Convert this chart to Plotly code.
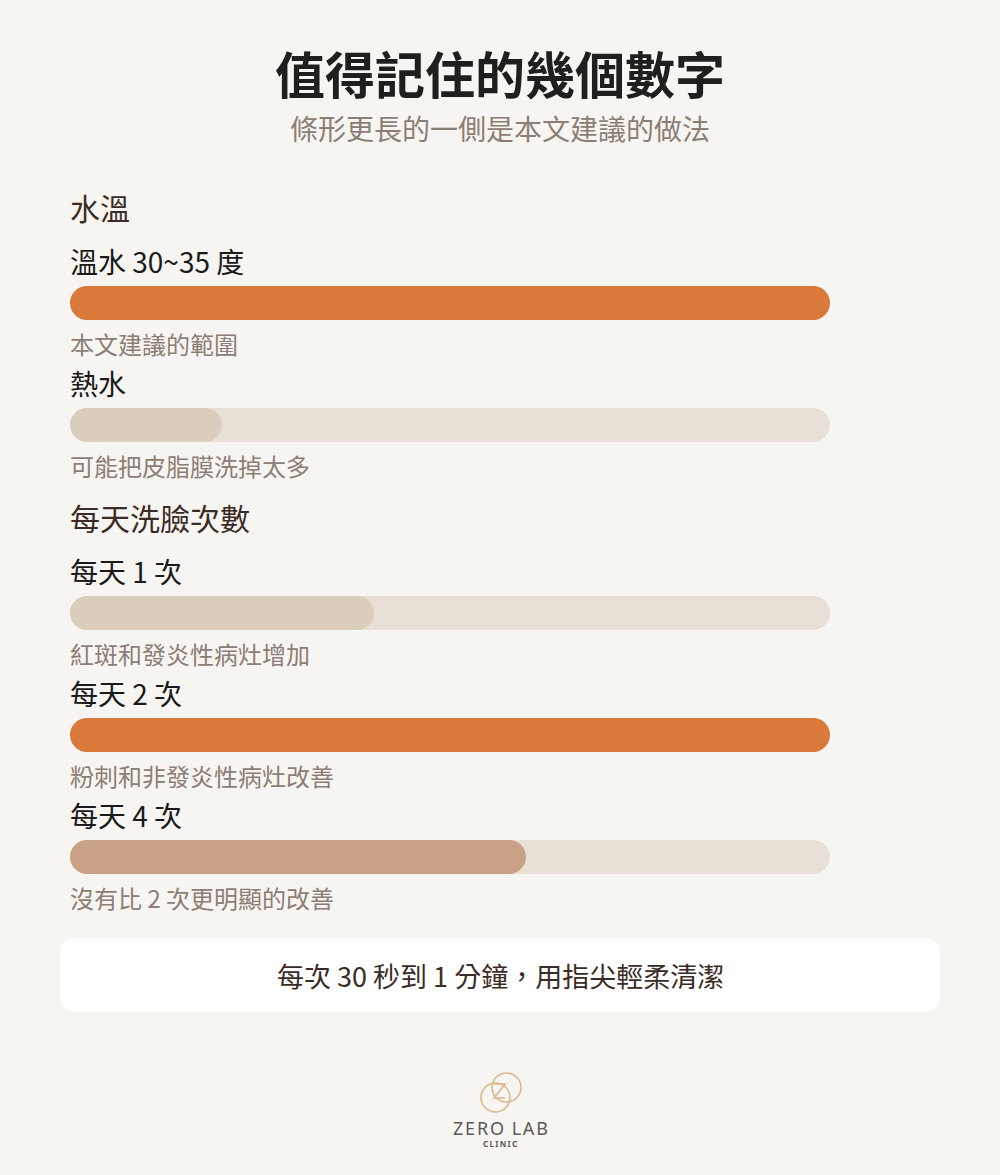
import plotly.graph_objects as go

# data
sections = ["水溫", "每天洗臉次數"]
row_section = [0, 0, 1, 1, 1]
row_labels = ["溫水 30~35 度", "熱水", "每天 1 次", "每天 2 次", "每天 4 次"]
row_values = [100, 20, 40, 100, 60]
row_notes = ["本文建議的範圍", "可能把皮脂膜洗掉太多", "紅斑和發炎性病灶增加",
             "粉刺和非發炎性病灶改善", "沒有比 2 次更明顯的改善"]
row_kind = ["best", "low", "low", "best", "high"]

title = "值得記住的幾個數字"
subtitle = "條形更長的一側是本文建議的做法"
footer = "每次 30 秒到 1 分鐘，用指尖輕柔清潔"

W, H = 1000, 1175
BG = "#F7F5F1"
TRACK = "#E8DFD6"
kind_color = {"best": "#D97A3A", "low": "#DBCDBB", "high": "#C9A285"}
FONT = "Noto Sans CJK TC"


def py(y):
    return 1 - y / H


# layout positions (pixels)
x_dom = [0.07, 0.83]
bar_h = 34
first_bar = 303
pitch = 122
section_gap = 66
bar_y, header_y = [], []
y = first_bar
for i, s in enumerate(row_section):
    if i > 0:
        y += pitch
        if s != row_section[i - 1]:
            y += section_gap
    if i == 0 or s != row_section[i - 1]:
        header_y.append(y - 42 - 54)
    bar_y.append(y)

# each pill = a short negative stub + the positive rest, stacked (relative mode),
# so plotly rounds both outer ends. stub = one bar height, in axis units.
stub = bar_h / ((x_dom[1] - x_dom[0]) * W) * 100
x_range = [-stub, 100 - stub]

fig = go.Figure()


def pill_row(values, colors, xa):
    n = len(values)
    fig.add_trace(go.Bar(
        x=[-stub] * n, y=bar_y, orientation="h", width=bar_h, xaxis=xa,
        marker=dict(color=colors, cornerradius=bar_h / 2, line_width=0),
        hoverinfo="skip", showlegend=False))
    fig.add_trace(go.Bar(
        x=[v - stub for v in values], y=bar_y, orientation="h", width=bar_h, xaxis=xa,
        marker=dict(color=colors, cornerradius=bar_h / 2, line_width=0),
        hoverinfo="skip", showlegend=False))


pill_row([100] * len(row_values), [TRACK] * len(row_values), "x")
pill_row(row_values, [kind_color[k] for k in row_kind], "x2")


def text(x, yy, s, size, color, anchor="left", family=FONT, weight=400):
    return dict(x=x, y=yy, xref="paper", yref="y", text=s, showarrow=False,
                xanchor=anchor, yanchor="middle",
                font=dict(family=family, size=size, color=color, weight=weight))


lx = 0.068
ann = [text(0.5, 72, title, 50, "#1f1f1f", "center", weight=700),
       text(0.5, 128, subtitle, 28, "#8c7e74", "center")]
for s, hy in zip(sections, header_y):
    ann.append(text(lx, hy, s, 30, "#3b2b25"))
for i in range(len(row_labels)):
    ann.append(text(lx, bar_y[i] - 42, row_labels[i], 28, "#1a1a1a"))
    ann.append(text(lx, bar_y[i] + 40, row_notes[i], 24, "#8c7e74"))
ann.append(text(0.5, 975, footer, 27, "#3b2b25", "center"))
ann.append(text(0.5, 1128, "Z\u200aE\u200aR\u200aO\u2009 L\u200aA\u200aB", 18, "#5a5a5a", "center",
                family="Noto Sans"))
ann.append(text(0.5, 1143, "C\u2009L\u2009I\u2009N\u2009I\u2009C", 8, "#5a5a5a", "center",
                family="Noto Sans", weight=700))


def rounded_box(x0, y0, x1, y1, r):
    X = lambda v: v / W
    Y = py
    return (f"M {X(x0 + r)},{Y(y0)} L {X(x1 - r)},{Y(y0)} Q {X(x1)},{Y(y0)} {X(x1)},{Y(y0 + r)} "
            f"L {X(x1)},{Y(y1 - r)} Q {X(x1)},{Y(y1)} {X(x1 - r)},{Y(y1)} "
            f"L {X(x0 + r)},{Y(y1)} Q {X(x0)},{Y(y1)} {X(x0)},{Y(y1 - r)} "
            f"L {X(x0)},{Y(y0 + r)} Q {X(x0)},{Y(y0)} {X(x0 + r)},{Y(y0)} Z")


shapes = [dict(type="path", xref="paper", yref="paper", path=rounded_box(60, 938, 940, 1012, 16),
               fillcolor="white", line_width=0, layer="below")]
gold = "#D9B88C"
for cx, cy in [(495.5, 1097.5), (506.5, 1087.5)]:
    r = 14.5
    shapes.append(dict(type="circle", xref="paper", yref="paper",
                       x0=(cx - r) / W, x1=(cx + r) / W, y0=py(cy + r), y1=py(cy - r),
                       line=dict(color=gold, width=1.6)))
zx = [494, 505, 494, 505]
zy = [1084, 1084, 1098, 1098]
shapes.append(dict(type="path", xref="paper", yref="paper",
                   path="M " + " L ".join(f"{a / W},{py(b)}" for a, b in zip(zx, zy)),
                   line=dict(color=gold, width=1.6)))

fig.update_layout(
    width=W, height=H, margin=dict(l=0, r=0, t=0, b=0),
    paper_bgcolor=BG, plot_bgcolor="rgba(0,0,0,0)", barmode="relative",
    xaxis=dict(domain=x_dom, range=x_range, visible=False, fixedrange=True),
    xaxis2=dict(domain=x_dom, range=x_range, visible=False, fixedrange=True,
                overlaying="x", anchor="y"),
    yaxis=dict(domain=[0, 1], range=[H, 0], visible=False, fixedrange=True),
    annotations=ann, shapes=shapes, showlegend=False,
)

fig.write_html("out.html", config={"displayModeBar": False},
               post_script="document.body.style.margin='0';document.body.style.overflow='hidden';")
